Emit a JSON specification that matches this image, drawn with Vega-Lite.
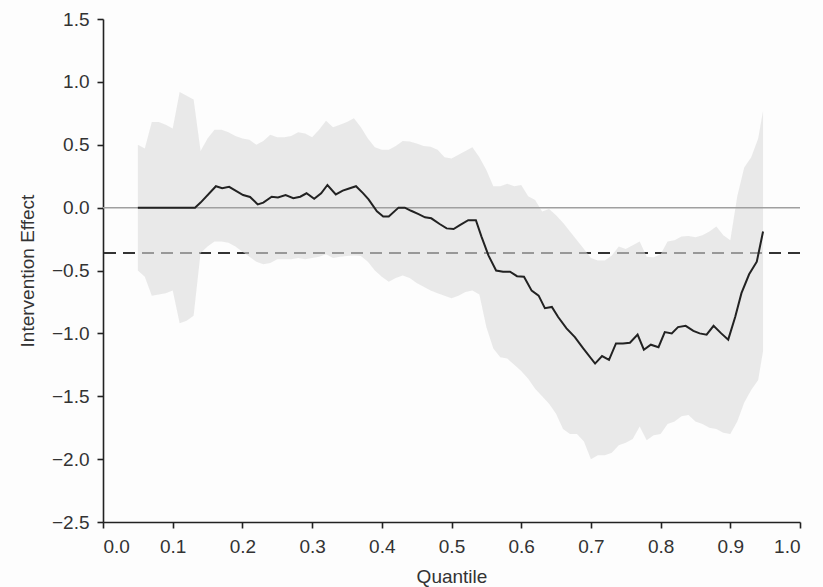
{
  "$schema": "https://vega.github.io/schema/vega-lite/v6.json",
  "autosize": {"type": "none"},
  "width": 697,
  "height": 503,
  "padding": {"left": 103, "top": 19, "right": 23, "bottom": 65},
  "background": "#fdfdfd",
  "config": {
    "view": {"stroke": null},
    "font": "Liberation Sans",
    "axis": {
      "grid": false,
      "domainColor": "#222",
      "domainWidth": 1.6,
      "tickColor": "#222",
      "tickWidth": 1.6,
      "tickSize": 6,
      "labelFont": "Liberation Sans",
      "labelFontSize": 19,
      "labelColor": "#333",
      "titleFont": "Liberation Sans",
      "titleFontSize": 19,
      "titleFontWeight": "normal",
      "titleColor": "#333"
    }
  },
  "datasets": {
    "band": [
      {"q": 0.05, "lo": -0.50, "hi": 0.50},
      {"q": 0.06, "lo": -0.55, "hi": 0.47},
      {"q": 0.07, "lo": -0.70, "hi": 0.68},
      {"q": 0.08, "lo": -0.69, "hi": 0.68},
      {"q": 0.09, "lo": -0.68, "hi": 0.66},
      {"q": 0.10, "lo": -0.66, "hi": 0.63},
      {"q": 0.11, "lo": -0.92, "hi": 0.92},
      {"q": 0.12, "lo": -0.90, "hi": 0.89},
      {"q": 0.13, "lo": -0.86, "hi": 0.86},
      {"q": 0.14, "lo": -0.36, "hi": 0.45},
      {"q": 0.15, "lo": -0.31, "hi": 0.55},
      {"q": 0.16, "lo": -0.27, "hi": 0.62},
      {"q": 0.17, "lo": -0.27, "hi": 0.62},
      {"q": 0.18, "lo": -0.28, "hi": 0.60},
      {"q": 0.19, "lo": -0.31, "hi": 0.57},
      {"q": 0.20, "lo": -0.35, "hi": 0.55},
      {"q": 0.21, "lo": -0.39, "hi": 0.54},
      {"q": 0.22, "lo": -0.43, "hi": 0.50},
      {"q": 0.23, "lo": -0.45, "hi": 0.53},
      {"q": 0.24, "lo": -0.44, "hi": 0.58},
      {"q": 0.25, "lo": -0.41, "hi": 0.56},
      {"q": 0.26, "lo": -0.41, "hi": 0.56},
      {"q": 0.27, "lo": -0.41, "hi": 0.57},
      {"q": 0.28, "lo": -0.40, "hi": 0.60},
      {"q": 0.29, "lo": -0.41, "hi": 0.59},
      {"q": 0.30, "lo": -0.40, "hi": 0.56},
      {"q": 0.31, "lo": -0.39, "hi": 0.62},
      {"q": 0.32, "lo": -0.37, "hi": 0.69},
      {"q": 0.33, "lo": -0.40, "hi": 0.64},
      {"q": 0.34, "lo": -0.39, "hi": 0.66},
      {"q": 0.35, "lo": -0.385, "hi": 0.68},
      {"q": 0.36, "lo": -0.38, "hi": 0.71},
      {"q": 0.37, "lo": -0.385, "hi": 0.64},
      {"q": 0.38, "lo": -0.43, "hi": 0.55},
      {"q": 0.39, "lo": -0.50, "hi": 0.48},
      {"q": 0.40, "lo": -0.55, "hi": 0.46},
      {"q": 0.41, "lo": -0.59, "hi": 0.46},
      {"q": 0.42, "lo": -0.56, "hi": 0.49},
      {"q": 0.43, "lo": -0.54, "hi": 0.53},
      {"q": 0.44, "lo": -0.56, "hi": 0.525},
      {"q": 0.45, "lo": -0.60, "hi": 0.51},
      {"q": 0.46, "lo": -0.63, "hi": 0.49},
      {"q": 0.47, "lo": -0.66, "hi": 0.485},
      {"q": 0.48, "lo": -0.68, "hi": 0.46},
      {"q": 0.49, "lo": -0.70, "hi": 0.40},
      {"q": 0.50, "lo": -0.72, "hi": 0.39},
      {"q": 0.51, "lo": -0.70, "hi": 0.42},
      {"q": 0.52, "lo": -0.67, "hi": 0.45},
      {"q": 0.53, "lo": -0.66, "hi": 0.48},
      {"q": 0.54, "lo": -0.69, "hi": 0.40},
      {"q": 0.55, "lo": -0.95, "hi": 0.30},
      {"q": 0.56, "lo": -1.12, "hi": 0.17},
      {"q": 0.57, "lo": -1.19, "hi": 0.17},
      {"q": 0.58, "lo": -1.20, "hi": 0.19},
      {"q": 0.59, "lo": -1.25, "hi": 0.17},
      {"q": 0.60, "lo": -1.30, "hi": 0.18},
      {"q": 0.61, "lo": -1.36, "hi": 0.09},
      {"q": 0.62, "lo": -1.44, "hi": 0.06},
      {"q": 0.63, "lo": -1.50, "hi": -0.03},
      {"q": 0.64, "lo": -1.56, "hi": -0.01},
      {"q": 0.65, "lo": -1.64, "hi": -0.06},
      {"q": 0.66, "lo": -1.76, "hi": -0.12},
      {"q": 0.67, "lo": -1.80, "hi": -0.19},
      {"q": 0.68, "lo": -1.80, "hi": -0.26},
      {"q": 0.69, "lo": -1.86, "hi": -0.33},
      {"q": 0.70, "lo": -2.00, "hi": -0.40},
      {"q": 0.71, "lo": -1.97, "hi": -0.42},
      {"q": 0.72, "lo": -1.97, "hi": -0.42},
      {"q": 0.73, "lo": -1.95, "hi": -0.38},
      {"q": 0.74, "lo": -1.89, "hi": -0.31},
      {"q": 0.75, "lo": -1.87, "hi": -0.33},
      {"q": 0.76, "lo": -1.84, "hi": -0.30},
      {"q": 0.77, "lo": -1.74, "hi": -0.27},
      {"q": 0.78, "lo": -1.85, "hi": -0.39},
      {"q": 0.79, "lo": -1.81, "hi": -0.395},
      {"q": 0.80, "lo": -1.80, "hi": -0.37},
      {"q": 0.81, "lo": -1.72, "hi": -0.27},
      {"q": 0.82, "lo": -1.70, "hi": -0.26},
      {"q": 0.83, "lo": -1.66, "hi": -0.23},
      {"q": 0.84, "lo": -1.65, "hi": -0.225},
      {"q": 0.85, "lo": -1.70, "hi": -0.235},
      {"q": 0.86, "lo": -1.72, "hi": -0.22},
      {"q": 0.87, "lo": -1.75, "hi": -0.19},
      {"q": 0.88, "lo": -1.76, "hi": -0.15},
      {"q": 0.89, "lo": -1.79, "hi": -0.22},
      {"q": 0.90, "lo": -1.80, "hi": -0.26},
      {"q": 0.91, "lo": -1.70, "hi": 0.09},
      {"q": 0.92, "lo": -1.55, "hi": 0.32},
      {"q": 0.93, "lo": -1.45, "hi": 0.40},
      {"q": 0.94, "lo": -1.37, "hi": 0.55},
      {"q": 0.947, "lo": -1.14, "hi": 0.77}
    ],
    "line": [
      {"q": 0.05, "v": 0},
      {"q": 0.132, "v": 0},
      {"q": 0.14, "v": 0.04},
      {"q": 0.162, "v": 0.17},
      {"q": 0.171, "v": 0.155},
      {"q": 0.181, "v": 0.165},
      {"q": 0.201, "v": 0.10},
      {"q": 0.211, "v": 0.085},
      {"q": 0.222, "v": 0.026},
      {"q": 0.23, "v": 0.04},
      {"q": 0.242, "v": 0.087},
      {"q": 0.251, "v": 0.08},
      {"q": 0.262, "v": 0.10},
      {"q": 0.273, "v": 0.075},
      {"q": 0.283, "v": 0.087},
      {"q": 0.292, "v": 0.114},
      {"q": 0.303, "v": 0.07},
      {"q": 0.313, "v": 0.114},
      {"q": 0.322, "v": 0.18},
      {"q": 0.334, "v": 0.105},
      {"q": 0.344, "v": 0.135},
      {"q": 0.352, "v": 0.15},
      {"q": 0.363, "v": 0.17},
      {"q": 0.373, "v": 0.115},
      {"q": 0.381, "v": 0.065},
      {"q": 0.393, "v": -0.03},
      {"q": 0.402, "v": -0.07},
      {"q": 0.41, "v": -0.07},
      {"q": 0.424, "v": 0},
      {"q": 0.433, "v": 0},
      {"q": 0.442, "v": -0.025},
      {"q": 0.452, "v": -0.05},
      {"q": 0.462, "v": -0.077},
      {"q": 0.471, "v": -0.085},
      {"q": 0.483, "v": -0.13},
      {"q": 0.493, "v": -0.165},
      {"q": 0.503, "v": -0.17},
      {"q": 0.512, "v": -0.14},
      {"q": 0.524, "v": -0.10},
      {"q": 0.535, "v": -0.10},
      {"q": 0.543, "v": -0.23},
      {"q": 0.553, "v": -0.38},
      {"q": 0.564, "v": -0.50},
      {"q": 0.574, "v": -0.51},
      {"q": 0.584, "v": -0.51},
      {"q": 0.594, "v": -0.545},
      {"q": 0.604, "v": -0.55},
      {"q": 0.615, "v": -0.66},
      {"q": 0.625, "v": -0.70},
      {"q": 0.634, "v": -0.80},
      {"q": 0.644, "v": -0.79},
      {"q": 0.653, "v": -0.87},
      {"q": 0.665, "v": -0.96},
      {"q": 0.677, "v": -1.03},
      {"q": 0.689, "v": -1.12},
      {"q": 0.706, "v": -1.24},
      {"q": 0.716, "v": -1.18},
      {"q": 0.726, "v": -1.21},
      {"q": 0.736, "v": -1.08},
      {"q": 0.746, "v": -1.08},
      {"q": 0.756, "v": -1.075},
      {"q": 0.767, "v": -1.01},
      {"q": 0.776, "v": -1.13},
      {"q": 0.786, "v": -1.09},
      {"q": 0.797, "v": -1.11},
      {"q": 0.806, "v": -0.99},
      {"q": 0.816, "v": -1.0},
      {"q": 0.825, "v": -0.95},
      {"q": 0.836, "v": -0.94},
      {"q": 0.847, "v": -0.98},
      {"q": 0.856, "v": -1.0},
      {"q": 0.866, "v": -1.01},
      {"q": 0.876, "v": -0.94},
      {"q": 0.887, "v": -1.0},
      {"q": 0.897, "v": -1.05},
      {"q": 0.907, "v": -0.87},
      {"q": 0.916, "v": -0.68},
      {"q": 0.927, "v": -0.53},
      {"q": 0.938, "v": -0.43},
      {"q": 0.947, "v": -0.19}
    ]
  },
  "layer": [
    {
      "data": {"values": [{"r": -0.36}]},
      "mark": {"type": "rule", "color": "#333", "strokeWidth": 2, "strokeDash": [12, 7]},
      "encoding": {
        "y": {"field": "r", "type": "quantitative", "scale": {"domain": [-2.5, 1.5]}}
      }
    },
    {
      "data": {"name": "band"},
      "mark": {"type": "area", "color": "#dcdcdc", "opacity": 0.6},
      "encoding": {
        "x": {
          "field": "q", "type": "quantitative",
          "scale": {"domain": [0, 1], "nice": false},
          "axis": {"values": [0, 0.1, 0.2, 0.3, 0.4, 0.5, 0.6, 0.7, 0.8, 0.9, 1.0], "format": ".1f", "title": "Quantile", "labelPadding": 9, "titlePadding": 11}
        },
        "y": {
          "field": "lo", "type": "quantitative",
          "scale": {"domain": [-2.5, 1.5], "nice": false, "zero": false},
          "axis": {"values": [-2.5, -2.0, -1.5, -1.0, -0.5, 0, 0.5, 1.0, 1.5], "format": ".1f", "title": "Intervention Effect", "labelPadding": 8, "titlePadding": 14}
        },
        "y2": {"field": "hi"}
      }
    },
    {
      "data": {"values": [{"r": 0}]},
      "mark": {"type": "rule", "color": "#a0a0a0", "strokeWidth": 1.5},
      "encoding": {
        "y": {"field": "r", "type": "quantitative"}
      }
    },
    {
      "data": {"name": "line"},
      "mark": {"type": "line", "color": "#222", "strokeWidth": 2},
      "encoding": {
        "x": {"field": "q", "type": "quantitative"},
        "y": {"field": "v", "type": "quantitative"}
      }
    }
  ]
}
